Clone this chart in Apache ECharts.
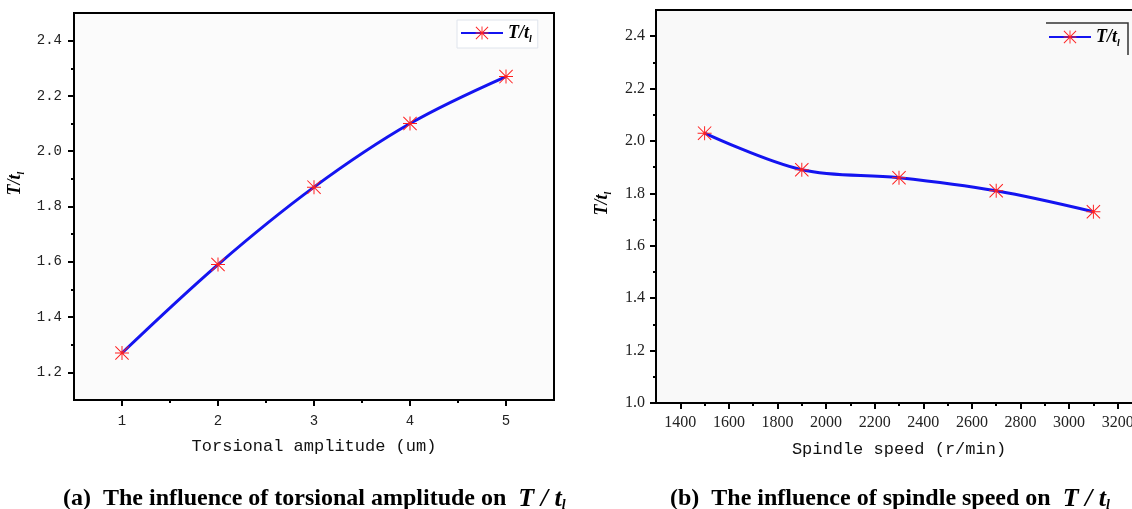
<!DOCTYPE html>
<html>
<head>
<meta charset="utf-8">
<script src="https://cdn.jsdelivr.net/npm/echarts@6/dist/echarts.min.js"></script>
<style>
  html, body { margin: 0; padding: 0; background: #fff; overflow: hidden; }
  #paint { width: 1142px; height: 509px; }
</style>
</head>
<body>
<div id="paint"></div>
<script>
// (a) torsional amplitude
var ampX = [1, 2, 3, 4, 5];
var ampRatio = [1.27, 1.59, 1.87, 2.10, 2.27];
var ampTicks = [1, 2, 3, 4, 5];
var ampMinor = [1.5, 2.5, 3.5, 4.5];
var ampYTicks = [1.2, 1.4, 1.6, 1.8, 2.0, 2.2, 2.4];
var ampYMinor = [1.3, 1.5, 1.7, 1.9, 2.1, 2.3];

// (b) spindle speed
var speedX = [1500, 1900, 2300, 2700, 3100];
var speedRatio = [2.03, 1.89, 1.86, 1.81, 1.73];
var speedTicks = [1400, 1600, 1800, 2000, 2200, 2400, 2600, 2800, 3000, 3200];
var speedMinor = [1500, 1700, 1900, 2100, 2300, 2500, 2700, 2900, 3100];
var speedYTicks = [1.0, 1.2, 1.4, 1.6, 1.8, 2.0, 2.2, 2.4];
var speedYMinor = [1.1, 1.3, 1.5, 1.7, 1.9, 2.1, 2.3];

var star = 'path://M9.3,0h1.4v20h-1.4z M0,9.3h20v1.4h-20z M0,1L1,0L20,19L19,20Z M19,0L20,1L1,20L0,19Z';
var ratioRich = {
    a: { fontFamily: 'Liberation Serif', fontWeight: 'bold', fontStyle: 'italic', fontSize: 18, color: '#000', lineHeight: 22 },
    b: { fontFamily: 'Liberation Serif', fontWeight: 'bold', fontStyle: 'italic', fontSize: 10, color: '#000', verticalAlign: 'bottom', lineHeight: 22, padding: [6, 0, 0, 0] }
};
var capRich = {
    c: { fontFamily: 'Liberation Serif', fontWeight: 'bold', fontSize: 24, fill: '#000' },
    m: { fontFamily: 'Liberation Serif', fontWeight: 'bold', fontStyle: 'italic', fontSize: 26, fill: '#000' },
    s: { fontFamily: 'Liberation Serif', fontWeight: 'bold', fontStyle: 'italic', fontSize: 14, fill: '#000', padding: [12, 0, 0, 0] }
};

function majorX(grid, min, max, ticks, font, size, margin, name) {
    return {
        gridIndex: grid, type: 'value', min: min, max: max,
        name: name, nameLocation: 'middle', nameGap: 38,
        nameTextStyle: { fontFamily: 'Liberation Mono', fontSize: 17, color: '#111' },
        axisLine: { show: true, onZero: false, lineStyle: { color: '#000', width: 2 } },
        axisTick: { show: true, customValues: ticks, length: 6, lineStyle: { color: '#000', width: 2 } },
        axisLabel: { customValues: ticks, margin: margin, fontFamily: font, fontSize: size, color: '#222',
            formatter: function (v) { return String(v); } },
        splitLine: { show: false }
    };
}
function minorX(grid, min, max, ticks) {
    return {
        gridIndex: grid, type: 'value', min: min, max: max, position: 'bottom',
        axisLine: { show: false, onZero: false },
        axisTick: { show: true, customValues: ticks, length: 3, lineStyle: { color: '#000', width: 2 } },
        axisLabel: { show: false },
        splitLine: { show: false }
    };
}
function majorY(grid, min, max, ticks, font, size, margin, gap, shift) {
    return {
        gridIndex: grid, type: 'value', min: min, max: max,
        name: '{a|T/t}{b|l}', nameLocation: 'middle', nameGap: gap, nameRotate: 90,
        nameTextStyle: { rich: ratioRich, padding: [0, 0, 0, shift] },
        axisLine: { show: true, onZero: false, lineStyle: { color: '#000', width: 2 } },
        axisTick: { show: true, customValues: ticks, length: 6, lineStyle: { color: '#000', width: 2 } },
        axisLabel: { customValues: ticks, margin: margin, fontFamily: font, fontSize: size, color: '#222',
            formatter: function (v) { return v.toFixed(1); } },
        splitLine: { show: false }
    };
}
function minorY(grid, min, max, ticks) {
    return {
        gridIndex: grid, type: 'value', min: min, max: max, position: 'left',
        axisLine: { show: false, onZero: false },
        axisTick: { show: true, customValues: ticks, length: 3, lineStyle: { color: '#000', width: 2 } },
        axisLabel: { show: false },
        splitLine: { show: false }
    };
}
function ratioLine(xs, ys, xi, yi) {
    var pts = [];
    for (var i = 0; i < xs.length; i++) pts.push([xs[i], ys[i]]);
    return {
        name: 'T/tl', type: 'line', xAxisIndex: xi, yAxisIndex: yi,
        data: pts, smooth: 0.35,
        symbol: star, symbolSize: 14,
        itemStyle: { color: '#ff2020' },
        lineStyle: { color: '#1414f0', width: 3 },
        z: 3
    };
}

var chart = echarts.init(document.getElementById('paint'));
var option = {
    animation: false,
    backgroundColor: '#fff',
    grid: [
        { left: 74, top: 13, width: 480, height: 387, show: true, backgroundColor: '#fbfbfb', borderColor: '#000', borderWidth: 2 },
        { left: 656, top: 10, right: 0, height: 393, show: true, backgroundColor: '#f9f9f9', borderColor: '#000', borderWidth: 2 }
    ],
    xAxis: [
        majorX(0, 0.5, 5.5, ampTicks, 'Liberation Mono', 14, 14, 'Torsional amplitude (um)'),
        minorX(0, 0.5, 5.5, ampMinor),
        majorX(1, 1300, 3300, speedTicks, 'Liberation Serif', 16, 12, 'Spindle speed (r/min)'),
        minorX(1, 1300, 3300, speedMinor)
    ],
    yAxis: [
        majorY(0, 1.1, 2.5, ampYTicks, 'Liberation Mono', 14, 12, 48, 46),
        minorY(0, 1.1, 2.5, ampYMinor),
        majorY(1, 1.0, 2.5, speedYTicks, 'Liberation Serif', 16, 11, 43, 6),
        minorY(1, 1.0, 2.5, speedYMinor)
    ],
    legend: [
        {
            left: 457, top: 20, padding: [4, 6, 4, 3], itemWidth: 42, itemHeight: 16, itemGap: 8,
            borderColor: '#dfe4ec', borderWidth: 1, backgroundColor: '#fff',
            data: ['T/tl'],
            formatter: function () { return '{a|T/t}{b|l}'; },
            textStyle: { rich: ratioRich }
        },
        {
            left: 1046, top: 26, padding: [2, 4, 2, 2], itemWidth: 42, itemHeight: 16,
            data: ['T/tl'],
            formatter: function () { return '{a|T/t}{b|l}'; },
            textStyle: { rich: ratioRich }
        }
    ],
    graphic: [
        { type: 'polyline', shape: { points: [[1046, 23], [1128, 23], [1128, 55]] },
          style: { stroke: '#333', lineWidth: 1.5, fill: null }, z: 10 },
        { type: 'text', left: 63, top: 486,
          style: { text: '{c|(a)  The influence of torsional amplitude on  }{m|T / t}{s|l}', rich: capRich } },
        { type: 'text', left: 670, top: 486,
          style: { text: '{c|(b)  The influence of spindle speed on  }{m|T / t}{s|l}', rich: capRich } }
    ],
    series: [
        ratioLine(ampX, ampRatio, 0, 0),
        ratioLine(speedX, speedRatio, 2, 2)
    ]
};
chart.setOption(option);
</script>
</body>
</html>
